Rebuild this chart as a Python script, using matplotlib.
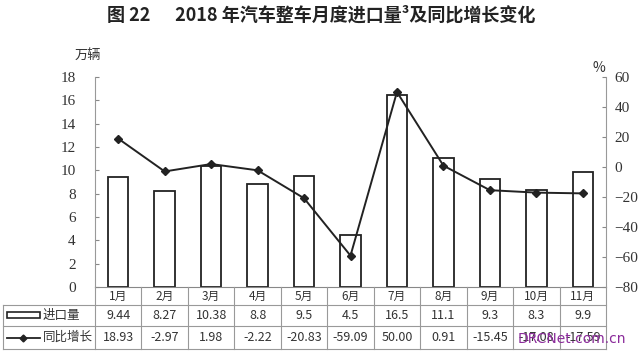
import numpy as np
import matplotlib
matplotlib.use('Agg')
from matplotlib import pyplot as plt

plt.rcParams['font.family'] = ['Noto Sans CJK SC', 'DejaVu Sans']

months = ['1月', '2月', '3月', '4月', '5月', '6月', '7月', '8月', '9月', '10月', '11月']
imports = [9.44, 8.27, 10.38, 8.8, 9.5, 4.5, 16.5, 11.1, 9.3, 8.3, 9.9]
growth = [18.93, -2.97, 1.98, -2.22, -20.83, -59.09, 50.00, 0.91, -15.45, -17.08, -17.59]
imports_txt = ['9.44', '8.27', '10.38', '8.8', '9.5', '4.5', '16.5', '11.1', '9.3', '8.3', '9.9']
growth_txt = ['18.93', '-2.97', '1.98', '-2.22', '-20.83', '-59.09', '50.00', '0.91', '-15.45', '-17.08', '-17.59']

W, H = 644, 353
fig = plt.figure(figsize=(W / 100, H / 100), dpi=100)

x0, x1 = 95, 606
ytop, ybot = 77, 287
ax = fig.add_axes([x0 / W, 1 - ybot / H, (x1 - x0) / W, (ybot - ytop) / H])
x = np.arange(len(months))
ax.bar(x, imports, width=0.44, color='white', edgecolor='#222222', linewidth=1.3, zorder=2)
ax.set_xlim(-0.5, len(months) - 0.5)
ax.set_ylim(0, 18)
ax.set_yticks(range(0, 19, 2))
ax.set_xticks([])
ax.tick_params(axis='y', direction='in', length=3, color='#888888', labelsize=11, pad=14)
for lab in ax.get_yticklabels():
    lab.set_family('Liberation Serif')
    lab.set_color('#333333')
for s in ['top', 'right']:
    ax.spines[s].set_visible(False)
ax.spines['left'].set_color('#999999')
ax.spines['bottom'].set_color('#888888')

ax2 = ax.twinx()
ax2.plot(x, growth, color='#222222', linewidth=1.4, marker='D', markersize=4.5, zorder=3)
ax2.set_ylim(-80, 60)
ax2.set_yticks(range(-80, 61, 20))
ax2.set_yticklabels([str(v).replace('-', '−') for v in range(-80, 61, 20)])
ax2.tick_params(axis='y', direction='in', length=3, color='#888888', labelsize=11, pad=6)
for lab in ax2.get_yticklabels():
    lab.set_family('Liberation Serif')
    lab.set_color('#333333')
for s in ['top', 'left', 'bottom']:
    ax2.spines[s].set_visible(False)
ax2.spines['right'].set_color('#999999')

# table and texts in pixel space
t = fig.add_axes([0, 0, 1, 1])
t.set_xlim(0, W)
t.set_ylim(H, 0)
t.axis('off')
t.patch.set_alpha(0)

col_w = (x1 - x0) / len(months)
lc = '#999999'
t.plot([3, x1], [305, 305], color=lc, lw=0.8)
t.plot([3, x1], [326, 326], color=lc, lw=0.8)
t.plot([3, x1], [349, 349], color=lc, lw=0.8)
t.plot([3, 3], [305, 349], color=lc, lw=0.8)
for i in range(len(months) + 1):
    xe = x0 + i * col_w
    t.plot([xe, xe], [287, 349], color=lc, lw=0.8)
for i, m in enumerate(months):
    xc = x0 + (i + 0.5) * col_w
    t.text(xc, 296, m, ha='center', va='center', fontsize=8.5, color='#333333')
    t.text(xc, 315.5, imports_txt[i], ha='center', va='center', fontsize=9, color='#333333')
    t.text(xc, 337.5, growth_txt[i], ha='center', va='center', fontsize=9, color='#333333')

# legend cells
t.add_patch(plt.Rectangle((7, 312), 33, 6, facecolor='white', edgecolor='#222222', lw=1.2))
t.text(43, 315.5, '进口量', ha='left', va='center', fontsize=9, color='#333333')
t.plot([7, 40], [337.5, 337.5], color='#222222', lw=1.3)
t.plot([23.5], [337.5], marker='D', color='#222222', markersize=3.5)
t.text(43, 337.5, '同比增长', ha='left', va='center', fontsize=9, color='#333333')

t.text(321, 15, '图 22      2018 年汽车整车月度进口量³及同比增长变化', ha='center', va='center',
       fontsize=13, fontweight='bold', color='#222222')
t.text(88, 55, '万辆', ha='center', va='center', fontsize=9.5, color='#333333')
t.text(599, 68, '%', ha='center', va='center', fontsize=10, color='#333333')
t.text(572, 339, 'DRCNet.com.cn', ha='center', va='center', fontsize=10, color='#8a2a9a',
       family='DejaVu Sans')

fig.savefig('out.png', dpi=100)
